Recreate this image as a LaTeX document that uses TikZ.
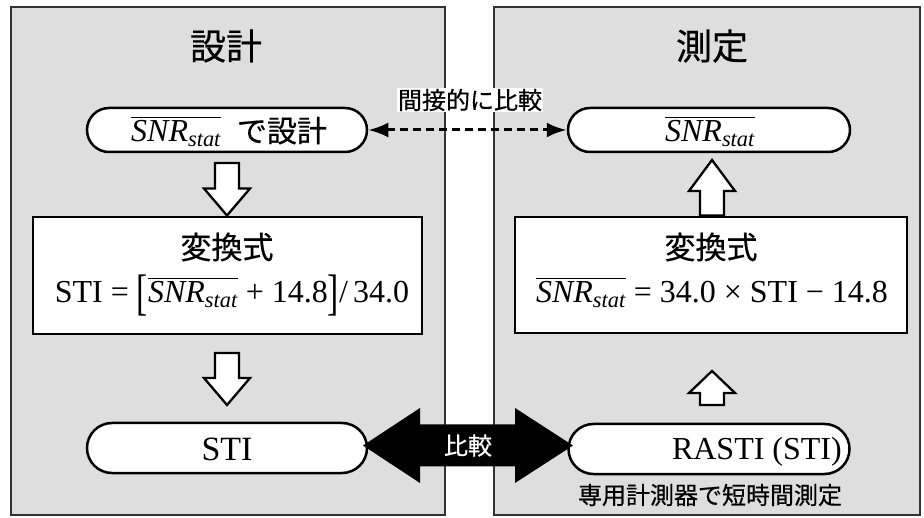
\documentclass[tikz,border=0pt]{standalone}
\usepackage{fix-cm}
\usepackage{amsmath}
\usepackage{fontspec}
\setmainfont{Liberation Serif}
\newfontfamily\jp[FakeBold=0.5]{Noto Sans CJK JP}
\usetikzlibrary{shapes.misc,arrows.meta,calc}
\newcommand{\snr}{$\overline{\text{\itshape SNR}_{\text{\itshape stat}}}$}
\newcommand{\tallbr}[1]{\raisebox{-7pt}{\scalebox{1.05}[1.56]{#1}}}
\tikzset{
  panel/.style={draw=black!80, line width=1.5pt, fill=black!13, inner sep=0pt, outer sep=0pt, anchor=north west},
  pill/.style={rounded rectangle, draw, line width=2.5pt, fill=white, inner sep=0pt},
  formbox/.style={rectangle, draw, line width=2.8pt, fill=white, inner sep=0pt},
  title/.style={font=\jp\fontsize{36}{40}\selectfont, inner sep=0pt},
  jplabel/.style={font=\jp\fontsize{24}{28}\selectfont, inner sep=1pt},
  serif/.style={font=\fontsize{32}{36}\selectfont, inner sep=0pt},
  hollowst/.style={draw, line width=2.3pt, fill=white, line join=miter},
}
% hollow block arrow from tail #1 to tip #2 (vertical), shaft half width 12pt, head half width 23pt, head length #3
\newcommand{\hollowarrow}[3]{%
  \draw[hollowst] let \p1=(#1), \p2=(#2), \n1={(\y1-\y2)/abs(\y1-\y2)} in
    (\x1-12pt,\y1) -- (\x1-12pt,{\y2+\n1*#3}) -- (\x1-23pt,{\y2+\n1*#3}) -- (\x1,\y2)
    -- (\x1+23pt,{\y2+\n1*#3}) -- (\x1+12pt,{\y2+\n1*#3}) -- (\x1+12pt,\y1) -- cycle;}
\begin{document}
\begin{tikzpicture}[x=1pt,y=-1pt]
\useasboundingbox (0,0) rectangle (924,518);
\fill[white] (0,0) rectangle (924,518);
% panels
\node[panel, minimum width=434, minimum height=508] (L) at (11,7) {};
\node[panel, minimum width=426, minimum height=508] (R) at (494,7) {};
% titles
\node[title] (tL) at (226,46) {設計};
\node[title] (tR) at (712,46) {測定};
% top pills
\node[pill, minimum width=280, minimum height=44] (p1) at (227,130) {};
\node[serif, anchor=base west] (p1t) at (131,142) {\snr\ \ {\jp\fontsize{30}{32}\selectfont で設計}};
\node[pill, minimum width=282, minimum height=44] (p2) at (709,130) {};
\node[serif, anchor=base] (p2t) at (710,142) {\snr};
% indirect comparison
\node[jplabel, fill=white] (ic) at (470,100) {間接的に比較};
\draw[line width=3pt, dash pattern=on 8pt off 5pt, {Latex[length=20pt,width=15pt]}-{Latex[length=20pt,width=15pt]}] (p1.east) -- (p2.west);
% formula boxes
\node[formbox, minimum width=389, minimum height=117] (r1) at (227.5,275.5) {};
\node[font=\jp\fontsize{31}{34}\selectfont, inner sep=0pt] (r1h) at (227,247) {変換式};
\node[serif, anchor=base] (r1f) at (232,303) {STI = \tallbr{[}\snr\ + 14.8\tallbr{]}/\,34.0};
\node[formbox, minimum width=392, minimum height=116] (r2) at (711,275) {};
\node[font=\jp\fontsize{31}{34}\selectfont, inner sep=0pt] (r2h) at (711,247) {変換式};
\node[serif, anchor=base] (r2f) at (712,303) {\snr\ = 34.0 × STI − 14.8};
% bottom pills
\node[pill, minimum width=280, minimum height=50] (p3) at (227,448) {};
\node[font=\fontsize{34}{36}\selectfont, inner sep=0pt] (p3t) at (227,449) {STI};
\node[pill, minimum width=281, minimum height=50] (p4) at (709,449) {};
\node[serif, anchor=base east] (p4t) at (842,460) {RASTI (STI)};
\node[jplabel] (meas) at (710,495) {専用計測器で短時間測定};
% hollow arrows
\coordinate (a1s) at (227,163);
\coordinate (a1e) at (227,215.5);
\coordinate (a2s) at (227,353);
\coordinate (a2e) at (227,405);
\coordinate (a3s) at (712,215.5);
\coordinate (a3e) at (712,160);
\coordinate (a4s) at (712,405);
\coordinate (a4e) at (712,371);
\hollowarrow{a1s}{a1e}{27pt}
\hollowarrow{a2s}{a2e}{27pt}
\hollowarrow{a3s}{a3e}{31pt}
\hollowarrow{a4s}{a4e}{22pt}
% comparison double arrow
\coordinate (cl) at (363,445.5);
\coordinate (cr) at (573,445.5);
\fill let \p1=(cl), \p2=(cr) in
  (\x1,\y1) -- (\x1+57pt,\y1+37.5pt) -- (\x1+57pt,\y1+21pt) -- (\x2-58pt,\y2+21pt)
  -- (\x2-58pt,\y2+37.5pt) -- (\x2,\y2) -- (\x2-58pt,\y2-37.5pt) -- (\x2-58pt,\y2-21pt)
  -- (\x1+57pt,\y1-21pt) -- (\x1+57pt,\y1-37.5pt) -- cycle;
\node[font=\jp\fontsize{24}{28}\selectfont, text=white, inner sep=0pt] (cmpt) at ($(cl)!0.5!(cr)$) {比較};
\end{tikzpicture}
\end{document}
